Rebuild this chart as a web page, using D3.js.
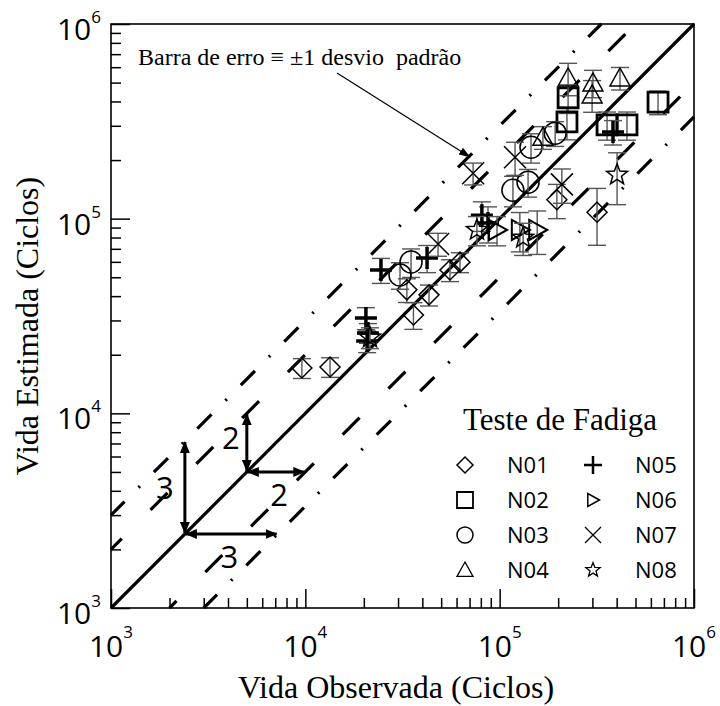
<!DOCTYPE html>
<html>
<head>
<meta charset="utf-8">
<script src="https://cdn.jsdelivr.net/npm/d3@7"></script>
<style>
  body { margin: 0; background: #fff; }
  svg { display: block; }
</style>
</head>
<body>
<svg id="chart" width="720" height="706"></svg>
<script>
// ---- data: observed life, estimated life, standard deviation of the estimate (cycles) ----
const seriesNames = ["N01", "N02", "N03", "N04", "N05", "N06", "N07", "N08"];

const n01Obs = [9.6e3, 1.34e4, 3.33e4, 4.33e4, 3.6e4, 5.55e4, 6.25e4, 1.97e5, 3.17e5];
const n01Est = [1.71e4, 1.73e4, 4.31e4, 4.06e4, 3.2e4, 5.45e4, 5.98e4, 1.25e5, 1.08e5];
const n01Sd  = [2.0e3, 2.0e3, 6e3, 5e3, 5e3, 7e3, 7e3, 2.5e4, 3.5e4];

const n02Obs = [2.25e5, 2.22e5, 3.57e5, 4.52e5, 6.53e5];
const n02Est = [4.17e5, 3.14e5, 3.03e5, 3.03e5, 3.97e5];
const n02Sd  = [7e4, 6e4, 5e4, 5e4, 5.5e4];

const n03Obs = [3.07e4, 3.5e4, 1.17e5, 1.4e5, 1.45e5, 1.93e5];
const n03Est = [5.14e4, 5.99e4, 1.4e5, 1.54e5, 2.33e5, 2.75e5];
const n03Sd  = [8e3, 1e4, 2.5e4, 2.5e4, 4e4, 4e4];

const n04Obs = [2.25e5, 3.02e5, 2.99e5, 4.16e5, 1.67e5];
const n04Est = [5.28e5, 4.98e5, 4.32e5, 5.28e5, 2.62e5];
const n04Sd  = [1e5, 8e4, 8e4, 7e4, 3.5e4];

const n05Obs = [2.45e4, 4.23e4, 8.1e4, 8.71e4, 3.83e5, 2.05e4, 2.1e4, 2.08e4];
const n05Est = [5.45e4, 6.28e4, 1.04e5, 9.5e4, 2.79e5, 3.09e4, 2.59e4, 2.35e4];
const n05Sd  = [8e3, 1e4, 1.8e4, 2e4, 4e4, 4e3, 3e3, 3e3];

const n06Obs = [9.69e4, 1.27e5, 1.56e5];
const n06Est = [8.75e4, 8.75e4, 8.75e4];
const n06Sd  = [1.5e4, 2e4, 2.2e4];

const n07Obs = [4.82e4, 7.3e4, 1.2e5, 2.09e5];
const n07Est = [7.41e4, 1.71e5, 2.07e5, 1.5e5];
const n07Sd  = [1e4, 2.2e4, 4e4, 3e4];

const n08Obs = [7.64e4, 1.32e5, 4.02e5, 2.15e4];
const n08Est = [8.75e4, 7.97e4, 1.68e5, 2.45e4];
const n08Sd  = [1.5e4, 1.5e4, 5e4, 3e3];

const majorTicks = [1e3, 1e4, 1e5, 1e6];
const tickExponents = ["3", "4", "5", "6"];
const scatterFactors = [2, 3];        // bands drawn on each side of the 1:1 line
const arrowBases = [5000, 2400];      // where the factor arrows start on the 1:1 line

// ---- layout ----
const plot = { left: 111, right: 694, top: 24, bottom: 608 };
const svg = d3.select("#chart");
const x = d3.scaleLog().domain([1e3, 1e6]).range([plot.left, plot.right]);
const y = d3.scaleLog().domain([1e3, 1e6]).range([plot.bottom, plot.top]);

const SANS = "'Open Sans', 'Liberation Sans', sans-serif";
const SERIF = "'Liberation Serif', 'Times New Roman', serif";

// ---- symbol paths ----
const symbolPath = {
  diamond: h => `M0,${-h}L${h},0L0,${h}L${-h},0Z`,
  square: h => `M${-h},${-h}H${h}V${h}H${-h}Z`,
  circle: h => `M${h},0A${h},${h} 0 1,1 ${-h},0A${h},${h} 0 1,1 ${h},0Z`,
  triangle: h => `M0,${-h}L${h},${h * 0.8}L${-h},${h * 0.8}Z`,
  plus: h => `M${-h},0H${h}M0,${-h}V${h}`,
  triRight: h => `M${h},0L${-h * 0.8},${-h}L${-h * 0.8},${h}Z`,
  cross: h => `M${-h},${-h}L${h},${h}M${-h},${h}L${h},${-h}`,
  star: h => {
    const pts = [];
    for (let i = 0; i < 10; i++) {
      const r = i % 2 === 0 ? h : h * 0.42;
      const a = -Math.PI / 2 + i * Math.PI / 5;
      pts.push([r * Math.cos(a), r * Math.sin(a)]);
    }
    return "M" + pts.map(p => p[0].toFixed(2) + "," + p[1].toFixed(2)).join("L") + "Z";
  }
};

const series = [
  { name: "N01", obs: n01Obs, est: n01Est, sd: n01Sd, sym: "diamond", size: 10, sw: 1.5, lsize: 8, lsw: 1.5 },
  { name: "N02", obs: n02Obs, est: n02Est, sd: n02Sd, sym: "square", size: 10, sw: 2.8, lsize: 8, lsw: 1.8 },
  { name: "N03", obs: n03Obs, est: n03Est, sd: n03Sd, sym: "circle", size: 11, sw: 1.5, lsize: 8, lsw: 1.5 },
  { name: "N04", obs: n04Obs, est: n04Est, sd: n04Sd, sym: "triangle", size: 10, sw: 1.5, lsize: 8, lsw: 1.3 },
  { name: "N05", obs: n05Obs, est: n05Est, sd: n05Sd, sym: "plus", size: 11, sw: 3.5, lsize: 9, lsw: 2.5 },
  { name: "N06", obs: n06Obs, est: n06Est, sd: n06Sd, sym: "triRight", size: 10, sw: 2, lsize: 6.5, lsw: 1.5 },
  { name: "N07", obs: n07Obs, est: n07Est, sd: n07Sd, sym: "cross", size: 11, sw: 1.5, lsize: 8, lsw: 1.3 },
  { name: "N08", obs: n08Obs, est: n08Est, sd: n08Sd, sym: "star", size: 11, sw: 1.5, lsize: 7.5, lsw: 1.3 }
];

// ---- axes: inward ticks, minor and major ----
const allTicks = x.ticks();
const minorTicks = allTicks.filter(v => !majorTicks.some(m => Math.abs(m - v) < 1e-6));

function styleTicks(g) {
  g.select(".domain").remove();
  g.selectAll(".tick line").attr("stroke", "#000").attr("stroke-width", 1.5);
}
svg.append("g").attr("transform", `translate(0,${plot.bottom})`)
  .call(d3.axisBottom(x).tickValues(minorTicks).tickSize(-10).tickFormat("")).call(styleTicks);
svg.append("g").attr("transform", `translate(0,${plot.bottom})`)
  .call(d3.axisBottom(x).tickValues(majorTicks).tickSize(-19).tickFormat("")).call(styleTicks);
svg.append("g").attr("transform", `translate(${plot.left},0)`)
  .call(d3.axisLeft(y).tickValues(minorTicks).tickSize(-10).tickFormat("")).call(styleTicks);
svg.append("g").attr("transform", `translate(${plot.left},0)`)
  .call(d3.axisLeft(y).tickValues(majorTicks).tickSize(-19).tickFormat("")).call(styleTicks);

// frame
svg.append("rect")
  .attr("x", plot.left).attr("y", plot.top)
  .attr("width", plot.right - plot.left).attr("height", plot.bottom - plot.top)
  .attr("fill", "none").attr("stroke", "#000").attr("stroke-width", 1.6);

// tick labels as powers of ten
majorTicks.forEach((v, i) => {
  const tx = svg.append("text")
    .attr("x", x(v)).attr("y", 657)
    .attr("text-anchor", "middle")
    .attr("font-family", SANS).attr("font-size", 30).attr("fill", "#000");
  tx.append("tspan").text("10");
  tx.append("tspan").attr("dy", -19).attr("font-size", 17).text(tickExponents[i]);

  const ty = svg.append("text")
    .attr("x", 101).attr("y", y(v) + 16)
    .attr("text-anchor", "end")
    .attr("font-family", SANS).attr("font-size", 30).attr("fill", "#000");
  ty.append("tspan").text("10");
  ty.append("tspan").attr("dy", -17).attr("font-size", 17).text(tickExponents[i]);
});

// axis titles
svg.append("text")
  .attr("x", 396).attr("y", 698)
  .attr("text-anchor", "middle")
  .attr("font-family", SERIF).attr("font-size", 32).attr("fill", "#000")
  .text("Vida Observada (Ciclos)");
svg.append("text")
  .attr("transform", "translate(38,326) rotate(-90)")
  .attr("text-anchor", "middle")
  .attr("font-family", SERIF).attr("font-size", 32).attr("fill", "#000")
  .text("Vida Estimada (Ciclos)");

// ---- reference lines: 1:1 and the factor-of-2 / factor-of-3 bands ----
const line = d3.line().x(d => x(d[0])).y(d => y(d[1]));
const refG = svg.append("g").attr("fill", "none").attr("stroke", "#000");

const bandStyle = {
  2: { dash: "24 40.8", offsets: [8.8, 14.1] },
  3: { dash: "20 19.75 2 19.75", offsets: [0.8, 1.15] }
};
scatterFactors.forEach(f => {
  const st = bandStyle[f];
  refG.append("path")
    .attr("d", line([[1e3, f * 1e3], [1e6 / f, 1e6]]))
    .attr("stroke-width", 3.2)
    .attr("stroke-dasharray", st.dash).attr("stroke-dashoffset", st.offsets[0]);
  refG.append("path")
    .attr("d", line([[f * 1e3, 1e3], [1e6, 1e6 / f]]))
    .attr("stroke-width", 3.2)
    .attr("stroke-dasharray", st.dash).attr("stroke-dashoffset", st.offsets[1]);
});
refG.append("path")
  .attr("d", line([[1e3, 1e3], [1e6, 1e6]]))
  .attr("stroke-width", 3.2);

// ---- arrow markers ----
const defs = svg.append("defs");
defs.append("marker")
  .attr("id", "head").attr("viewBox", "0 0 12 10")
  .attr("refX", 11).attr("refY", 5)
  .attr("markerWidth", 12).attr("markerHeight", 10)
  .attr("markerUnits", "userSpaceOnUse").attr("orient", "auto-start-reverse")
  .append("path").attr("d", "M0,0L12,5L0,10Z").attr("fill", "#000");
defs.append("marker")
  .attr("id", "thinHead").attr("viewBox", "0 0 12 8")
  .attr("refX", 11).attr("refY", 4)
  .attr("markerWidth", 12).attr("markerHeight", 8)
  .attr("markerUnits", "userSpaceOnUse").attr("orient", "auto")
  .append("path").attr("d", "M0,0L12,4L0,8Z").attr("fill", "#000");

// factor arrows with their labels
scatterFactors.forEach((f, i) => {
  const b = arrowBases[i];
  const x0 = x(b), y0 = y(b), x1 = x(b * f), y1 = y(b * f);
  const g = svg.append("g").attr("stroke", "#000").attr("stroke-width", 3);
  g.append("line").attr("x1", x0).attr("y1", y0 - 1).attr("x2", x0).attr("y2", y1 + 1)
    .attr("marker-start", "url(#head)").attr("marker-end", "url(#head)");
  g.append("line").attr("x1", x0 + 1).attr("y1", y0).attr("x2", x1 - 1).attr("y2", y0)
    .attr("marker-start", "url(#head)").attr("marker-end", "url(#head)");
  svg.append("text")
    .attr("x", x0 - (f === 2 ? 16 : 20)).attr("y", (y0 + y1) / 2 - (f === 2 ? 5 : 0))
    .attr("dy", "0.36em").attr("text-anchor", "middle")
    .attr("font-family", SANS).attr("font-size", 31).attr("fill", "#000")
    .text(String(f));
  svg.append("text")
    .attr("x", (x0 + x1) / 2 + (f === 2 ? 3 : -2)).attr("y", y0 + 23)
    .attr("dy", "0.36em").attr("text-anchor", "middle")
    .attr("font-family", SANS).attr("font-size", 31).attr("fill", "#000")
    .text(String(f));
});

// ---- error bars and markers ----
const dataG = svg.append("g");
series.forEach(s => {
  const pts = s.obs.map((o, i) => ({ o, e: s.est[i], sd: s.sd[i] }));
  const eb = dataG.append("g").attr("stroke", "#555").attr("stroke-width", 1.4);
  pts.forEach(p => {
    const cx = x(p.o), yTop = y(p.e + p.sd), yBot = y(Math.max(p.e - p.sd, 1e3));
    eb.append("line").attr("x1", cx).attr("x2", cx).attr("y1", yTop).attr("y2", yBot);
    eb.append("line").attr("x1", cx - 9).attr("x2", cx + 9).attr("y1", yTop).attr("y2", yTop);
    eb.append("line").attr("x1", cx - 9).attr("x2", cx + 9).attr("y1", yBot).attr("y2", yBot);
  });
  dataG.append("g").selectAll("path").data(pts).join("path")
    .attr("transform", p => `translate(${x(p.o)},${y(p.e)})`)
    .attr("d", symbolPath[s.sym](s.size))
    .attr("fill", "none").attr("stroke", "#000").attr("stroke-width", s.sw);
});

// ---- annotation ----
svg.append("text")
  .attr("x", 138).attr("y", 65)
  .attr("font-family", SERIF).attr("font-size", 24).attr("fill", "#000")
  .style("white-space", "pre")
  .text("Barra de erro \u2261 \u00b11 desvio  padr\u00e3o");
svg.append("line")
  .attr("x1", 337).attr("y1", 73).attr("x2", 470).attr("y2", 157)
  .attr("stroke", "#000").attr("stroke-width", 1.2)
  .attr("marker-end", "url(#thinHead)");

// ---- legend ----
const legend = svg.append("g");
legend.append("text")
  .attr("x", 463).attr("y", 430)
  .attr("font-family", SERIF).attr("font-size", 31).attr("fill", "#000")
  .text("Teste de Fadiga");
const rowY = [465, 500, 535, 570];
const colSymX = [465, 593];
const colTextX = [507, 635];
series.forEach((s, i) => {
  const col = Math.floor(i / 4), row = i % 4;
  legend.append("path")
    .attr("transform", `translate(${colSymX[col]},${rowY[row]})`)
    .attr("d", symbolPath[s.sym](s.lsize))
    .attr("fill", "none").attr("stroke", "#000").attr("stroke-width", s.lsw);
  legend.append("text")
    .attr("x", colTextX[col]).attr("y", rowY[row]).attr("dy", "0.36em")
    .attr("font-family", SANS).attr("font-size", 22).attr("fill", "#000")
    .text(s.name);
});
</script>
</body>
</html>
